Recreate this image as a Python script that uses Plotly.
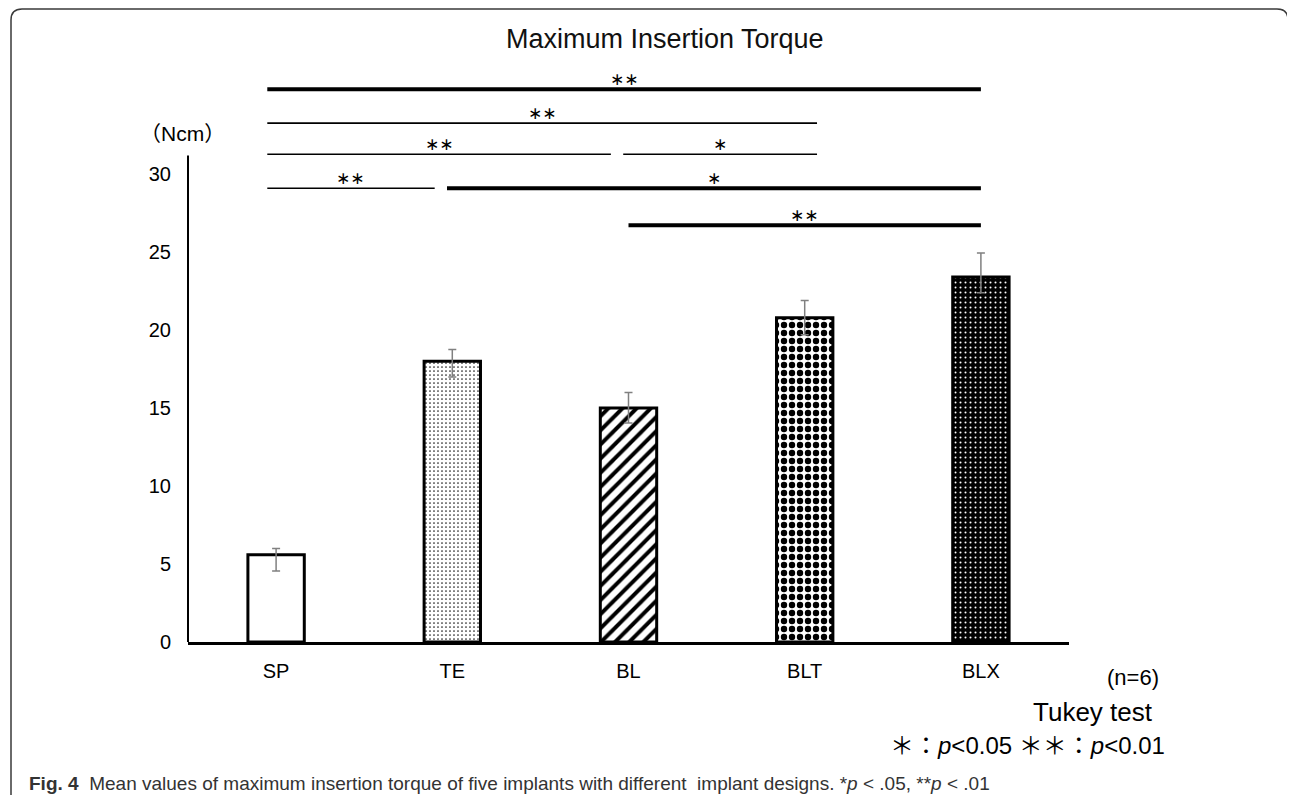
import plotly.graph_objects as go

# ---------------- data ----------------
categories = ["SP", "TE", "BL", "BLT", "BLX"]
mean_torque = [5.6, 18.0, 15.0, 20.8, 23.4]
err_plus = [0.4, 0.75, 1.0, 1.1, 1.55]
err_minus = [1.05, 1.0, 0.95, 1.1, 1.0]
y_ticks = [0, 5, 10, 15, 20, 25, 30]

# significance comparisons (start / end in category units, height in Ncm)
sig_start = [-0.05, -0.05, -0.05, 1.97, -0.05, 0.97, 2.0]
sig_end = [4.0, 3.07, 1.9, 3.07, 0.9, 4.0, 4.0]
sig_level = [35.45, 33.27, 31.28, 31.28, 29.1, 29.1, 26.73]
sig_label = ["**", "**", "**", "*", "**", "*", "**"]
sig_thick = [True, False, False, False, False, True, True]

# bar fill styles (pattern per implant)
pat_shape = ["", ".", "/", ".", "."]
pat_fg = ["black", "#222222", "black", "black", "white"]
pat_bg = ["white", "white", "white", "white", "black"]
pat_size = [6, 4, 10, 8, 5]
pat_solid = [0.1, 0.15, 0.4, 0.5, 0.13]

# ---------------- layout geometry ----------------
OFF = 8                      # default page body margin
W, H = 1295 - OFF, 795 - OFF
ML, MT = 188 - OFF, 65 - OFF
MR = W - (1069 - OFF)
MB = H - (642 - OFF)
PW, PH = W - ML - MR, H - MT - MB


def px(page_x):
    return (page_x - OFF - ML) / PW


def py(page_y):
    return (H - MB - (page_y - OFF)) / PH


FONT = "Liberation Sans, Arial, Noto Sans CJK JP, sans-serif"

fig = go.Figure()

for i, cat in enumerate(categories):
    fig.add_trace(go.Bar(
        x=[cat],
        y=[mean_torque[i]],
        width=0.32,
        marker=dict(
            color=pat_bg[i],
            line=dict(color="black", width=3),
            pattern=dict(shape=pat_shape[i], fgcolor=pat_fg[i], bgcolor=pat_bg[i],
                         size=pat_size[i], solidity=pat_solid[i], fillmode="replace"),
        ),
        error_y=dict(type="data", symmetric=False, array=[err_plus[i]],
                     arrayminus=[err_minus[i]], color="#808080", thickness=1.5, width=4),
        showlegend=False,
    ))

shapes = []
annotations = []

# y axis line (stops at ~31)
shapes.append(dict(type="line", xref="x domain", yref="y", x0=0, x1=0, y0=0, y1=31.2,
                   line=dict(color="black", width=2)))

for s, e, lv, lab, thick in zip(sig_start, sig_end, sig_level, sig_label, sig_thick):
    shapes.append(dict(type="line", xref="x", yref="y", x0=s, x1=e, y0=lv, y1=lv,
                       line=dict(color="black", width=4 if thick else 1.6)))
    annotations.append(dict(x=(s + e) / 2, y=lv, xref="x", yref="y",
                            text=lab.replace("*", "∗"), showarrow=False,
                            yanchor="middle", yshift=10,
                            font=dict(family="DejaVu Sans", size=17, color="black")))

# outer rounded frame (open at bottom)
xl, xr, yt, r = 11, 1288, 9, 11
path = (f"M {px(xl)} {py(820)} L {px(xl)} {py(yt + r)} "
        f"Q {px(xl)} {py(yt)} {px(xl + r)} {py(yt)} "
        f"L {px(xr - r)} {py(yt)} Q {px(xr)} {py(yt)} {px(xr)} {py(yt + r)} "
        f"L {px(xr)} {py(820)}")
shapes.append(dict(type="path", xref="paper", yref="paper", path=path,
                   line=dict(color="#3a3a3a", width=1.5)))

# title
annotations.append(dict(x=px(665), y=py(39), xref="paper", yref="paper",
                        text="Maximum Insertion Torque", showarrow=False,
                        xanchor="center", yanchor="middle",
                        font=dict(family=FONT, size=27, color="#111111")))
# unit label
annotations.append(dict(x=px(227), y=py(133), xref="paper", yref="paper",
                        text="（Ncm）", showarrow=False, xanchor="right", yanchor="middle",
                        font=dict(family=FONT, size=21, color="black")))
# n, test, significance legend
annotations.append(dict(x=px(1133), y=py(677), xref="paper", yref="paper",
                        text="(n=6)", showarrow=False, xanchor="center", yanchor="middle",
                        font=dict(family=FONT, size=22, color="black")))
annotations.append(dict(x=px(1093), y=py(712), xref="paper", yref="paper",
                        text="Tukey test", showarrow=False, xanchor="center", yanchor="middle",
                        font=dict(family=FONT, size=26, color="black")))
annotations.append(dict(x=px(1167), y=py(745), xref="paper", yref="paper",
                        text="＊：<i>p</i>&lt;0.05 ＊＊：<i>p</i>&lt;0.01", showarrow=False,
                        xanchor="right", yanchor="middle",
                        font=dict(family=FONT, size=24, color="black")))
# caption
annotations.append(dict(x=px(27), y=py(783), xref="paper", yref="paper",
                        text="<b>Fig. 4</b>  Mean values of maximum insertion torque of five implants "
                             "with different  implant designs. *<i>p</i> &lt; .05, **<i>p</i> &lt; .01",
                        showarrow=False, xanchor="left", yanchor="middle",
                        font=dict(family=FONT, size=19, color="#333333")))

fig.update_layout(
    width=W, height=H,
    margin=dict(l=ML, r=MR, t=MT, b=MB),
    paper_bgcolor="white", plot_bgcolor="white",
    font=dict(family=FONT, color="black"),
    shapes=shapes, annotations=annotations,
    barmode="overlay",
)
fig.update_xaxes(type="category", categoryorder="array", categoryarray=categories,
                 range=[-0.5, 4.5], showline=True, linecolor="black", linewidth=2.5,
                 ticks="", showgrid=False, zeroline=False,
                 tickfont=dict(size=20, family=FONT), ticklabelstandoff=9)
fig.update_yaxes(range=[0, 37], showline=False, showgrid=False, zeroline=False,
                 tickvals=y_ticks, ticks="", tickfont=dict(size=20, family=FONT),
                 ticklabelstandoff=16)

fig.write_html("out.html")
